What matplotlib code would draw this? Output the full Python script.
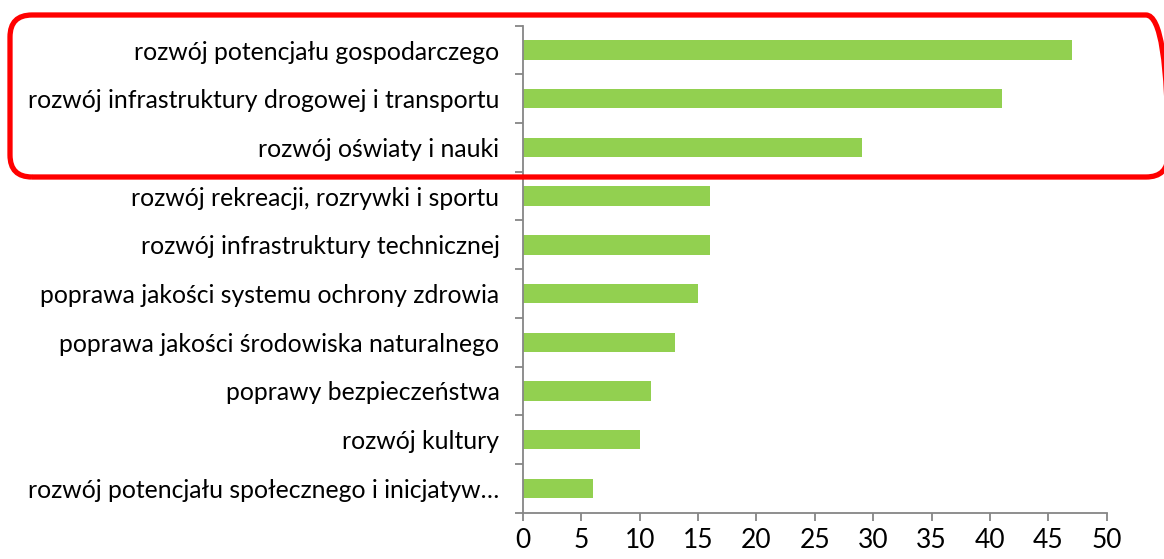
import matplotlib
matplotlib.use("Agg")
import matplotlib.pyplot as plt
from matplotlib.patches import FancyBboxPatch
from matplotlib.transforms import IdentityTransform

categories = [
    "rozwój potencjału gospodarczego",
    "rozwój infrastruktury drogowej i transportu",
    "rozwój oświaty i nauki",
    "rozwój rekreacji, rozrywki i sportu",
    "rozwój infrastruktury technicznej",
    "poprawa jakości systemu ochrony zdrowia",
    "poprawa jakości środowiska naturalnego",
    "poprawy bezpieczeństwa",
    "rozwój kultury",
    "rozwój potencjału społecznego i inicjatyw…",
]
values = [47, 41, 29, 16, 16, 15, 13, 11, 10, 6]
x_ticks = [0, 5, 10, 15, 20, 25, 30, 35, 40, 45, 50]

plt.rcParams['font.family'] = ['Lato', 'DejaVu Sans']

W, H = 1164, 559
fig = plt.figure(figsize=(W / 100, H / 100), dpi=100)
ax = fig.add_axes([523 / W, 1 - 512.7 / H, (1106.7 - 523) / W, (512.7 - 25.7) / H])

n = len(categories)
ypos = list(range(n))[::-1]
ax.barh(ypos, values, height=0.4, color="#92D050", edgecolor="none")

ax.set_xlim(0, 50)
ax.set_ylim(-0.5, n - 0.5)
ax.set_xticks(x_ticks)
ax.set_xticklabels([str(t) for t in x_ticks], fontsize=19, color="#000000")

# category labels at centers, tick marks at boundaries
ax.set_yticks(ypos)
ax.set_yticklabels(categories, fontsize=17.8, color="#000000")
ax.tick_params(axis="y", which="major", length=0, pad=17)
ax.set_yticks([i - 0.5 for i in range(n + 1)], minor=True)
ax.tick_params(axis="y", which="minor", length=6, width=1.3, color="#868686")
ax.tick_params(axis="x", which="major", length=6, width=1.3, color="#868686", pad=5)

for s in ["top", "right"]:
    ax.spines[s].set_visible(False)
for s in ["left", "bottom"]:
    ax.spines[s].set_color("#868686")
    ax.spines[s].set_linewidth(1.3)

# red rounded highlight box (display pixel coordinates)
x0, x1 = 10, 1168
ytop, ybot = H - 15, H - 177
box = FancyBboxPatch((x0, ybot), x1 - x0, ytop - ybot,
                     boxstyle="round,pad=0,rounding_size=22",
                     transform=IdentityTransform(), fill=False,
                     edgecolor="#FF0000", linewidth=3.8, clip_on=False)
fig.patches.append(box)

fig.savefig("out.png", dpi=100, facecolor="white")
